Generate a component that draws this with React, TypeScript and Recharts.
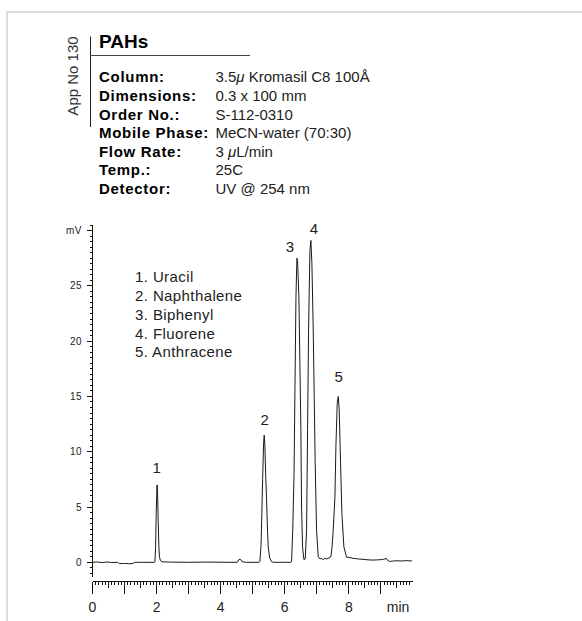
import { LineChart, Line, XAxis, YAxis, ReferenceDot } from "recharts";

const FONT = '"Liberation Sans", Arial, Helvetica, sans-serif';
const INK = "#111";

// method header
const title = "PAHs";
const appNo = "App No 130";
const infoLabels = ["Column:", "Dimensions:", "Order No.:", "Mobile Phase:", "Flow Rate:", "Temp.:", "Detector:"];
const infoValues = ["3.5μ Kromasil C8 100Å", "0.3 x 100 mm", "S-112-0310", "MeCN-water (70:30)", "3 μL/min", "25C", "UV @ 254 nm"];

// peaks
const compounds = ["Uracil", "Naphthalene", "Biphenyl", "Fluorene", "Anthracene"];
const peakTimes = [2.02, 5.36, 6.38, 6.817, 7.67];
const peakHeights = [7.0, 11.5, 27.5, 29.1, 15.0];

// axis labels
const xLabelTicks = [0, 2, 4, 6, 8];
const yLabelTicks = [0, 5, 10, 15, 20, 25];
const yUnitTick = 30;

// trace, [min, mV]
const baselineStart = [
  [0, 0], [0.15, 0.03], [0.3, -0.03], [0.45, 0.03], [0.6, -0.02], [0.78, 0],
  [0.84, -0.12], [1.0, -0.1], [1.15, -0.13], [1.27, -0.1], [1.32, 0], [1.6, 0], [1.92, 0],
];
const peak1 = [
  [1.95, 0.05], [1.97, 1.5], [1.99, 4.5], [2.01, 6.9], [2.02, 7.0], [2.03, 6.4],
  [2.05, 3.8], [2.07, 1.5], [2.09, 0.5], [2.12, 0.15], [2.17, 0.05],
];
const baselineMid = [
  [2.4, 0.02], [3.0, 0], [3.6, 0.02], [4.2, 0], [4.52, 0], [4.57, 0.25],
  [4.62, 0.27], [4.67, 0.05], [4.8, 0], [5.2, 0],
];
const peak2 = [
  [5.225, 0.1], [5.26, 1.5], [5.29, 5.0], [5.31, 7.5], [5.34, 10.8], [5.36, 11.5],
  [5.38, 10.5], [5.41, 7.5], [5.43, 5.9], [5.46, 3.0], [5.485, 1.4], [5.53, 0.4],
  [5.59, 0.05], [5.65, 0],
];
const baselineGap = [[5.9, 0], [6.19, 0]];
const peaks34 = [
  [6.213, 0.05], [6.25, 3.0], [6.29, 8.0], [6.32, 16.0], [6.35, 24.0], [6.38, 27.5],
  [6.40, 27.3], [6.442, 24.0], [6.473, 18.0], [6.504, 12.0], [6.525, 5.0], [6.556, 1.4],
  [6.598, 0.25], [6.64, 0.3], [6.682, 2.9], [6.713, 12.0], [6.744, 21.0], [6.786, 28.2],
  [6.817, 29.1], [6.848, 27.0], [6.889, 21.0], [6.92, 15.0], [6.95, 9.0], [6.993, 2.9],
  [7.045, 0.5], [7.1, 0.3],
];
const valley45 = [[7.15, 0.35], [7.2, 0.25], [7.26, 0.35], [7.32, 0.3], [7.38, 0.4], [7.44, 0.5]];
const peak5 = [
  [7.48, 1.5], [7.513, 2.9], [7.566, 5.9], [7.597, 10.5], [7.638, 14.4], [7.67, 15.0],
  [7.70, 13.8], [7.742, 9.0], [7.784, 4.4], [7.846, 1.4], [7.93, 0.45],
];
const baselineEnd = [
  [8.0, 0.45], [8.13, 0.36], [8.3, 0.3], [8.44, 0.27], [8.6, 0.22], [8.75, 0.2],
  [8.9, 0.22], [9.05, 0.25], [9.13, 0.3], [9.16, 0.38], [9.2, 0.2], [9.27, 0.08],
  [9.4, 0.12], [9.5, 0.14], [9.65, 0.12], [9.8, 0.15], [9.97, 0.12],
];

const trace = [
  baselineStart, peak1, baselineMid, peak2, baselineGap, peaks34, valley45, peak5, baselineEnd,
].flat().map(([t, mv]) => ({ t, mv }));

// tick marks every 0.1 min / 0.5 mV
const xTicks = Array.from({ length: 100 }, (_, i) => i / 10);
const yTicks = Array.from({ length: 64 }, (_, i) => -1 + i * 0.5);

// pixel offsets of the peak numbers from each apex
const labelOffsets = [[-0.5, -12], [0.5, -10], [-7, -6.5], [3, -6.5], [0.5, -14]];

function XTick({ x, y, payload }: any) {
  const tenth = Math.round(payload.value * 10);
  const len = tenth % 10 === 0 ? 12 : tenth % 5 === 0 ? 6 : 3;
  const label = xLabelTicks.includes(tenth / 10) ? String(tenth / 10) : null;
  return (
    <g>
      <line x1={x} x2={x} y1={y} y2={y + len} stroke={INK} shapeRendering="crispEdges" />
      {label && (
        <text x={x} y={y + 30} textAnchor="middle" fontFamily={FONT} fontSize={14} fill="#222">
          {label}
        </text>
      )}
    </g>
  );
}

function YTick({ x, y, payload }: any) {
  const v = payload.value;
  const major = Math.abs(v / 5 - Math.round(v / 5)) < 1e-6;
  let label: string | null = null;
  if (yLabelTicks.includes(v)) label = String(v);
  if (v === yUnitTick) label = "mV";
  return (
    <g>
      <line x1={x - (major ? 6 : 3)} x2={x} y1={y} y2={y} stroke={INK} shapeRendering="crispEdges" />
      {label && (
        <text x={x - 10.5} y={y + 3.5} textAnchor="end" fontFamily={FONT} fontSize={10} letterSpacing={0.5} fill="#222">
          {label}
        </text>
      )}
    </g>
  );
}

function withMu(s: string) {
  return s.split(/(μ)/).map((part, i) =>
    part === "μ" ? <tspan key={i} fontStyle="italic">μ</tspan> : <tspan key={i}>{part}</tspan>
  );
}

export default function App() {
  return (
    <div style={{ position: "absolute", left: 0, top: 0, width: 582, height: 621, background: "#fff", overflow: "hidden" }}>
      <div
        style={{
          position: "absolute", left: 6, top: 11, width: 576, height: 610, boxSizing: "border-box",
          borderTop: "2px solid #dcdcdc", borderLeft: "2px solid #dcdcdc",
        }}
      />
      <LineChart
        width={582}
        height={621}
        data={trace}
        margin={{ top: 225, right: 169.1, bottom: 5.5, left: 0.5 }}
        style={{ position: "absolute", left: 0, top: 0 }}
      >
        <XAxis
          dataKey="t"
          type="number"
          domain={[0, 10]}
          allowDataOverflow
          ticks={xTicks}
          interval={0}
          tick={<XTick />}
          tickLine={false}
          tickSize={0}
          tickMargin={0}
          height={34}
          axisLine={{ stroke: INK, shapeRendering: "crispEdges" }}
          label={{ value: "min", position: "insideBottomRight", offset: 3.5, fontFamily: FONT, fontSize: 14, fill: "#222" }}
        />
        <YAxis
          type="number"
          domain={[-1.736, 30.5]}
          allowDataOverflow
          ticks={yTicks}
          interval={0}
          tick={<YTick />}
          tickLine={false}
          tickSize={0}
          tickMargin={0}
          width={92}
          axisLine={{ stroke: INK, strokeDasharray: "352 40", shapeRendering: "crispEdges" }}
        />
        <Line
          dataKey="mv"
          type="linear"
          stroke="#1a1a1a"
          strokeWidth={1}
          dot={false}
          isAnimationActive={false}
        />
        {peakTimes.map((t, i) => (
          <ReferenceDot
            key={compounds[i]}
            x={t}
            y={peakHeights[i]}
            r={1}
            ifOverflow="visible"
            shape={(p: any) => (
              <text
                x={p.cx + labelOffsets[i][0]}
                y={p.cy + labelOffsets[i][1]}
                textAnchor="middle"
                fontFamily={FONT}
                fontSize={15}
                fill="#222"
              >
                {i + 1}
              </text>
            )}
          />
        ))}
      </LineChart>

      <svg width={582} height={621} style={{ position: "absolute", left: 0, top: 0, pointerEvents: "none" }}>
        <g fontFamily={FONT}>
          <text x={78} y={76} transform="rotate(-90 78 76)" textAnchor="middle" fontSize={15} fill="#333">
            {appNo}
          </text>
          <line x1={90.5} x2={90.5} y1={36.5} y2={127} stroke="#222" />
          <line x1={90} x2={250} y1={55.5} y2={55.5} stroke="#444" />
          <text x={99} y={48.3} fontSize={19} fontWeight="bold" fill="#000">{title}</text>
          {infoLabels.map((lab, i) => (
            <text key={lab} x={99} y={82.4 + i * 18.55} fontSize={15} fontWeight="bold" letterSpacing={0.7} fill="#000">
              {lab}
            </text>
          ))}
          {infoValues.map((val, i) => (
            <text key={val} x={215.5} y={82.4 + i * 18.55} fontSize={15} fill="#222">
              {withMu(val)}
            </text>
          ))}
          {compounds.map((c, i) => (
            <text key={c} x={135} y={282.4 + i * 18.75} fontSize={15} letterSpacing={0.4} fill="#222">
              {`${i + 1}. ${c}`}
            </text>
          ))}
        </g>
      </svg>
    </div>
  );
}
